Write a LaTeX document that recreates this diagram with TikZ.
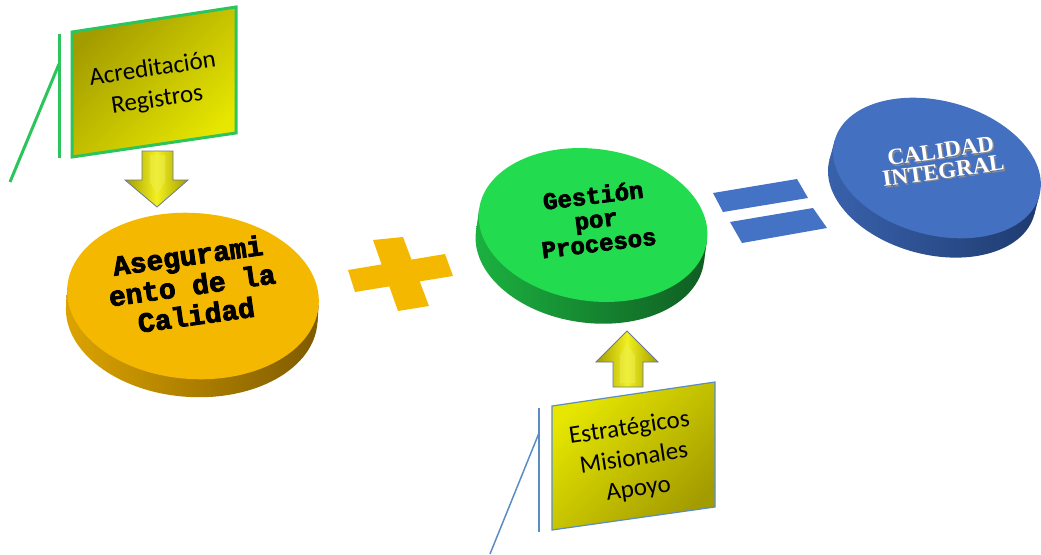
\documentclass[tikz,border=0pt]{standalone}
\usepackage{fontspec}
\setmainfont{Carlito}
\newfontfamily\heavymono{Liberation Mono}[BoldFeatures={FakeBold=3}]
\newfontfamily\capsserif{Liberation Serif}
\definecolor{ortop}{HTML}{F5B800}
\definecolor{orsideL}{HTML}{DDA400}
\definecolor{orsideR}{HTML}{7E5A00}
\definecolor{grtop}{HTML}{22DB4E}
\definecolor{grsideL}{HTML}{1CB340}
\definecolor{grsideR}{HTML}{0F5C22}
\definecolor{bltop}{HTML}{4470C2}
\definecolor{blsideL}{HTML}{3A63AE}
\definecolor{blsideR}{HTML}{1E3A6E}
\definecolor{signblue}{HTML}{4472C4}
\definecolor{olivedark}{HTML}{A39C00}
\definecolor{yellowbright}{HTML}{E6E600}
\definecolor{yellowmid}{HTML}{F2F020}
\definecolor{calloutgreen}{HTML}{2CC45C}
\definecolor{calloutblue}{HTML}{5B8CC4}
\definecolor{arrowedge}{HTML}{6A7A8C}
\definecolor{textshadow}{HTML}{8A8A8A}
\tikzset{
  disctext/.style={align=center, inner sep=0pt, text=black},
  calloutText/.style={align=center, inner sep=0pt, text=black,
    font={\fontsize{25}{31}\selectfont}},
  blocky/.style={draw=arrowedge, line width=0.8pt, left color=olivedark, right color=olivedark, middle color=yellowmid},
}
\begin{document}
\begin{tikzpicture}[x=1pt,y=-1pt]
\useasboundingbox (0,0) rectangle (1041,554);

% ---------- orange disc ----------
\begin{scope}[shift={(193,296)}, rotate=-4]
  \shade[left color=orsideL, right color=orsideR] (0,18) ellipse [x radius=126, y radius=83];
  \shade[left color=orsideL, right color=orsideR] (-126,0) rectangle (126,18);
  \fill[ortop] (0,0) ellipse [x radius=126, y radius=83];
\end{scope}
\node[disctext, font={\heavymono\bfseries\fontsize{28}{30}\selectfont}, rotate=8] (aseg) at (192,285) {Asegurami\\ento de la\\Calidad};

% ---------- plus sign ----------
\fill[ortop] (373,240) -- (403,237) -- (411.5,259.6) -- (445,254) -- (453,276) -- (419.7,281.4)
  -- (429,306) -- (398,311) -- (389.3,286.4) -- (355,292) -- (348,270) -- (381.6,264.4) -- cycle;

% ---------- green disc ----------
\begin{scope}[shift={(593,225)}, rotate=-8]
  \shade[left color=grsideL, right color=grsideR] (0,22) ellipse [x radius=115, y radius=76];
  \shade[left color=grsideL, right color=grsideR] (-115,0) rectangle (115,22);
  \fill[grtop] (0,0) ellipse [x radius=115, y radius=76];
\end{scope}
\node[disctext, font={\heavymono\bfseries\fontsize{24}{24}\selectfont}, rotate=7] (gest) at (596,219) {Gestión\\por\\Procesos};

% ---------- equals sign ----------
\fill[signblue] (713,193) -- (797,179) -- (808,198) -- (723,212) -- cycle;
\fill[signblue] (730,222) -- (813,208) -- (827,228) -- (742,243) -- cycle;

% ---------- blue disc ----------
\begin{scope}[shift={(937,168)}, rotate=-15]
  \shade[left color=blsideL, right color=blsideR] (0,20) ellipse [x radius=106, y radius=67];
  \shade[left color=blsideL, right color=blsideR] (-106,0) rectangle (106,20);
  \fill[bltop] (0,0) ellipse [x radius=106, y radius=67];
\end{scope}
\node[align=center, inner sep=0pt, text=textshadow, rotate=8,
  font={\capsserif\bfseries\fontsize{23}{20}\selectfont}] (calshadow) at (943.5,162.5) {CALIDAD\\INTEGRAL};
\node[align=center, inner sep=0pt, text=white, rotate=8,
  font={\capsserif\bfseries\fontsize{23}{20}\selectfont}] (calint) at (942,161) {CALIDAD\\INTEGRAL};

% ---------- top callout ----------
\coordinate (tlTop) at (59,34);
\coordinate (tlBot) at (59,158);
\coordinate (tlKnee) at (59,64);
\coordinate (tlEnd) at (10,182);
\draw[calloutgreen, line width=3pt] (tlTop) -- (tlBot);
\draw[calloutgreen, line width=3pt] (tlKnee) -- (tlEnd);
\draw[draw=calloutgreen, line width=3pt, left color=olivedark, right color=yellowbright, shading angle=45]
  (72,32) -- (236,7) -- (236,133) -- (72,157) -- cycle;
\node[calloutText, rotate=8.5] (acred) at (155,85) {Acreditación\\Registros};

% down arrow
\path[blocky] (142,151) -- (173,151) -- (173,180) -- (188,180) -- (157,207) -- (125,180) -- (142,180) -- cycle;
\fill[yellowbright!70!white, opacity=0.6] (150,155) -- (165,155) -- (165,182) -- (157,194) -- (150,182) -- cycle;

% ---------- bottom callout ----------
\coordinate (blTop) at (539,408);
\coordinate (blBot) at (539,532);
\coordinate (blKnee) at (539,433);
\coordinate (blEnd) at (490,554);
\draw[calloutblue, line width=1.5pt] (blTop) -- (blBot);
\draw[calloutblue, line width=1.5pt] (blKnee) -- (blEnd);
\draw[draw=calloutblue, line width=1.2pt, left color=yellowbright, right color=olivedark, shading angle=45]
  (552,406) -- (715,382) -- (715,507) -- (552,530) -- cycle;
\node[calloutText, rotate=8.5] (estr) at (634,459) {Estratégicos\\Misionales\\Apoyo};

% up arrow
\path[blocky] (627,331) -- (658,362) -- (643,362) -- (643,387) -- (613,387) -- (613,362) -- (596,362) -- cycle;
\fill[yellowbright!70!white, opacity=0.6] (627,343) -- (635,356) -- (635,383) -- (620,383) -- (620,356) -- cycle;
\end{tikzpicture}
\end{document}
